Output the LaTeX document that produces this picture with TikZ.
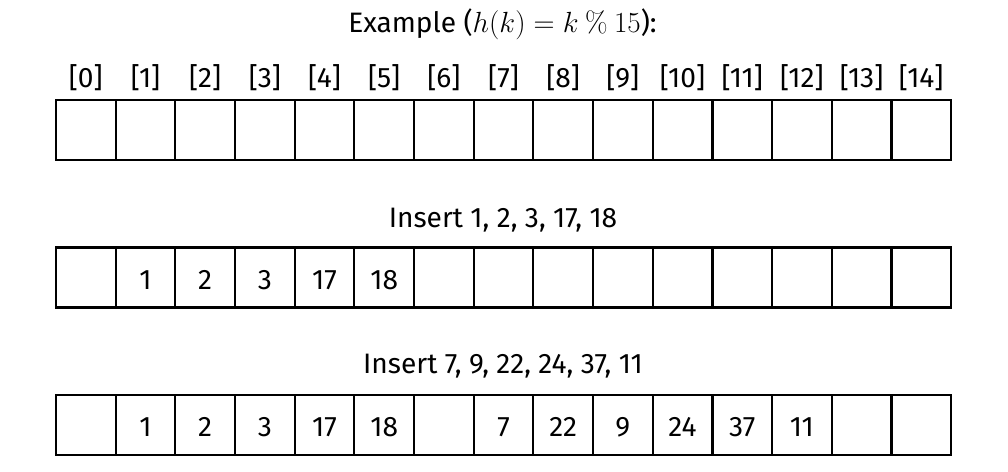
\documentclass[tikz,border=0pt]{standalone}
\usepackage[no-math]{fontspec}
\setmainfont{Fira Sans}
\usetikzlibrary{positioning}

\begin{document}
\begin{tikzpicture}[x=0.025cm, y=-0.025cm,
    cell/.style={draw, line width=1.6pt, minimum width=1.4917cm, minimum height=1.5cm, inner sep=0pt},
    txt/.style={font=\fontsize{20}{24}\selectfont, inner sep=0pt, anchor=base}]
  \useasboundingbox (0,0) rectangle (1008,472);

  \node[txt] (title) at (502.5,33) {Example ($h(k) = k \mathbin{\%} 15$):};

  % three rows of 15 slots
  \foreach \i in {0,...,14} {
    \node[cell] (a\i) at ({85.83+59.67*\i},130) {};
    \node[cell] (b\i) at ({85.83+59.67*\i},277.5) {};
    \node[cell] (c\i) at ({85.83+59.67*\i},425) {};
    \node[txt, above=0.29cm of a\i.north, anchor=base] (idx\i) {[\i]};
  }

  \node[txt] (ins1) at (503,228) {Insert 1, 2, 3, 17, 18};
  \node[txt] (ins2) at (503,373) {Insert 7, 9, 22, 24, 37, 11};

  \foreach \i/\v in {1/1, 2/2, 3/3, 4/17, 5/18}
    \node[txt] (vb\i) at ([yshift=-0.29cm]b\i.center) {\v};
  \foreach \i/\v in {1/1, 2/2, 3/3, 4/17, 5/18, 7/7, 8/22, 9/9, 10/24, 11/37, 12/11}
    \node[txt] (vc\i) at ([yshift=-0.29cm]c\i.center) {\v};
\end{tikzpicture}
\end{document}
